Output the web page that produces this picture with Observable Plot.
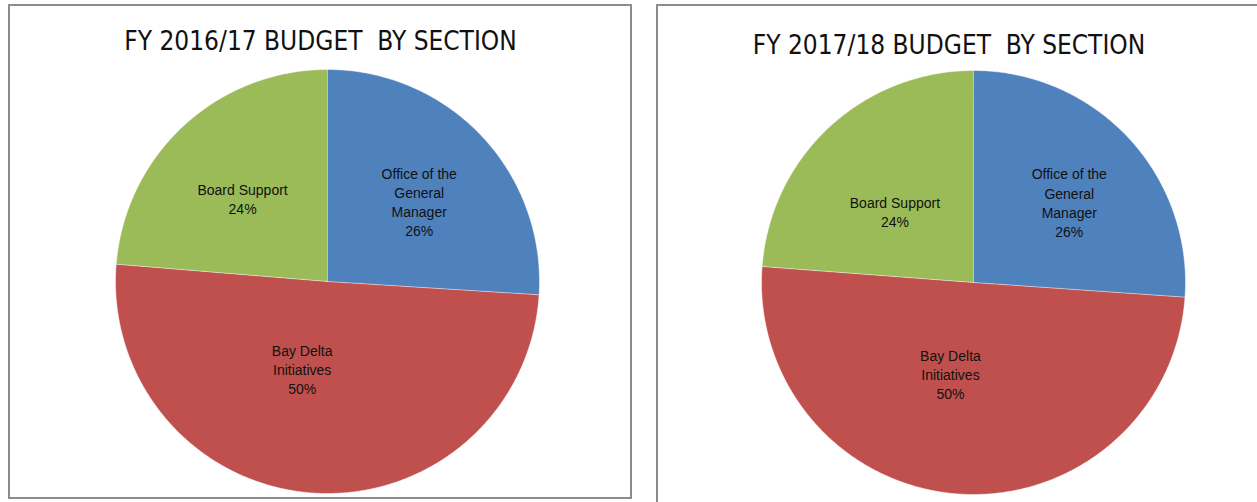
<!DOCTYPE html>
<html><head><meta charset="utf-8">
<script src="https://cdn.jsdelivr.net/npm/d3@7"></script>
<script src="https://cdn.jsdelivr.net/npm/@observablehq/plot@0.6"></script>
<style>
html,body{margin:0;padding:0;background:#fff;overflow:hidden;width:1257px;height:502px;}
.chart{position:absolute;top:0;height:502px;overflow:hidden;}
.box{position:absolute;border:2px solid #8c8c8c;box-sizing:border-box;}
.chart svg{position:absolute;left:0;top:0;background:transparent;}
</style></head><body>
<div id="c1" class="chart" style="left:0;width:640px"><div class="box" style="left:8px;top:4px;width:624px;height:495px"></div></div>
<div id="c2" class="chart" style="left:640px;width:617px"><div class="box" style="left:16px;top:4px;width:640px;height:520px"></div></div>
<script>
// ---- data ----
const sections = ["Office of the General Manager", "Bay Delta Initiatives", "Board Support"];
const sectionLabels = ["Office of the\nGeneral\nManager", "Bay Delta\nInitiatives", "Board Support"];
const colors = ["#4F81BD", "#C0504D", "#9BBB59"];
const titles = ["FY 2016/17 BUDGET  BY SECTION", "FY 2017/18 BUDGET  BY SECTION"];
const values2016 = [26.0, 50.3, 23.7];
const values2017 = [26.1, 50.1, 23.8];

function slicePoints(values) {
  const total = d3.sum(values);
  let acc = 0;
  const pts = [];
  values.forEach((v, i) => {
    const a0 = acc / total * 2 * Math.PI, a1 = (acc + v) / total * 2 * Math.PI;
    acc += v;
    const n = Math.max(2, Math.ceil((a1 - a0) / (Math.PI / 360)));
    pts.push({section: sections[i], x: 0, y: 0});
    for (let k = 0; k <= n; k++) {
      const a = a0 + (a1 - a0) * k / n;
      pts.push({section: sections[i], x: Math.sin(a), y: Math.cos(a)});
    }
  });
  return pts;
}

function labelPoints(values, layout) {
  const total = d3.sum(values);
  let acc = 0;
  return values.map((v, i) => {
    const mid = (acc + v / 2) / total * 2 * Math.PI + layout[i][0] * Math.PI / 180;
    acc += v;
    const k = layout[i][1];
    return {x: k * Math.sin(mid), y: k * Math.cos(mid),
            text: sectionLabels[i] + "\n" + Math.round(v / total * 100) + "%"};
  });
}

function pie(el, values, title, W, H, cx, cy, r, titleY, layout) {
  const svg = Plot.plot({
    width: W, height: H, margin: 0,
    style: {background: "transparent"},
    x: {domain: [-cx / r, (W - cx) / r], range: [0, W], axis: null},
    y: {domain: [-(H - cy) / r, cy / r], range: [H, 0], axis: null},
    color: {domain: sections, range: colors},
    marks: [
      Plot.line(slicePoints(values), {x: "x", y: "y", z: "section", fill: "section",
        stroke: "#ffffff", strokeOpacity: 0.6, strokeWidth: 0.8, curve: "linear"}),
      Plot.text(labelPoints(values, layout), {x: "x", y: "y", text: "text",
        fontSize: 14, fontFamily: "Liberation Sans, Arial, sans-serif", fill: "#111",
        lineHeight: 1.37, textAnchor: "middle"}),
      Plot.text([title], {frameAnchor: "top", lineAnchor: "middle", dy: titleY, text: d => d, ariaLabel: "title",
        fontSize: 26, fontFamily: "Liberation Sans Narrow, DejaVu Sans Condensed, sans-serif",
        fill: "#111"})
    ]
  });
  d3.select(svg).selectAll('g[aria-label="title"] text').style("letter-spacing", "1px")
    .attr("x", cx);
  document.getElementById(el).appendChild(svg);
}

pie("c1", values2016, titles[0], 640, 502, 327, 281, 212, 41,
    [[2, 0.575], [12, 0.43], [-3, 0.56]]);
pie("c2", values2017, titles[1], 617, 502, 333, 282, 212, 45,
    [[3, 0.59], [10, 0.445], [-5, 0.5]]);
</script>
</body></html>
